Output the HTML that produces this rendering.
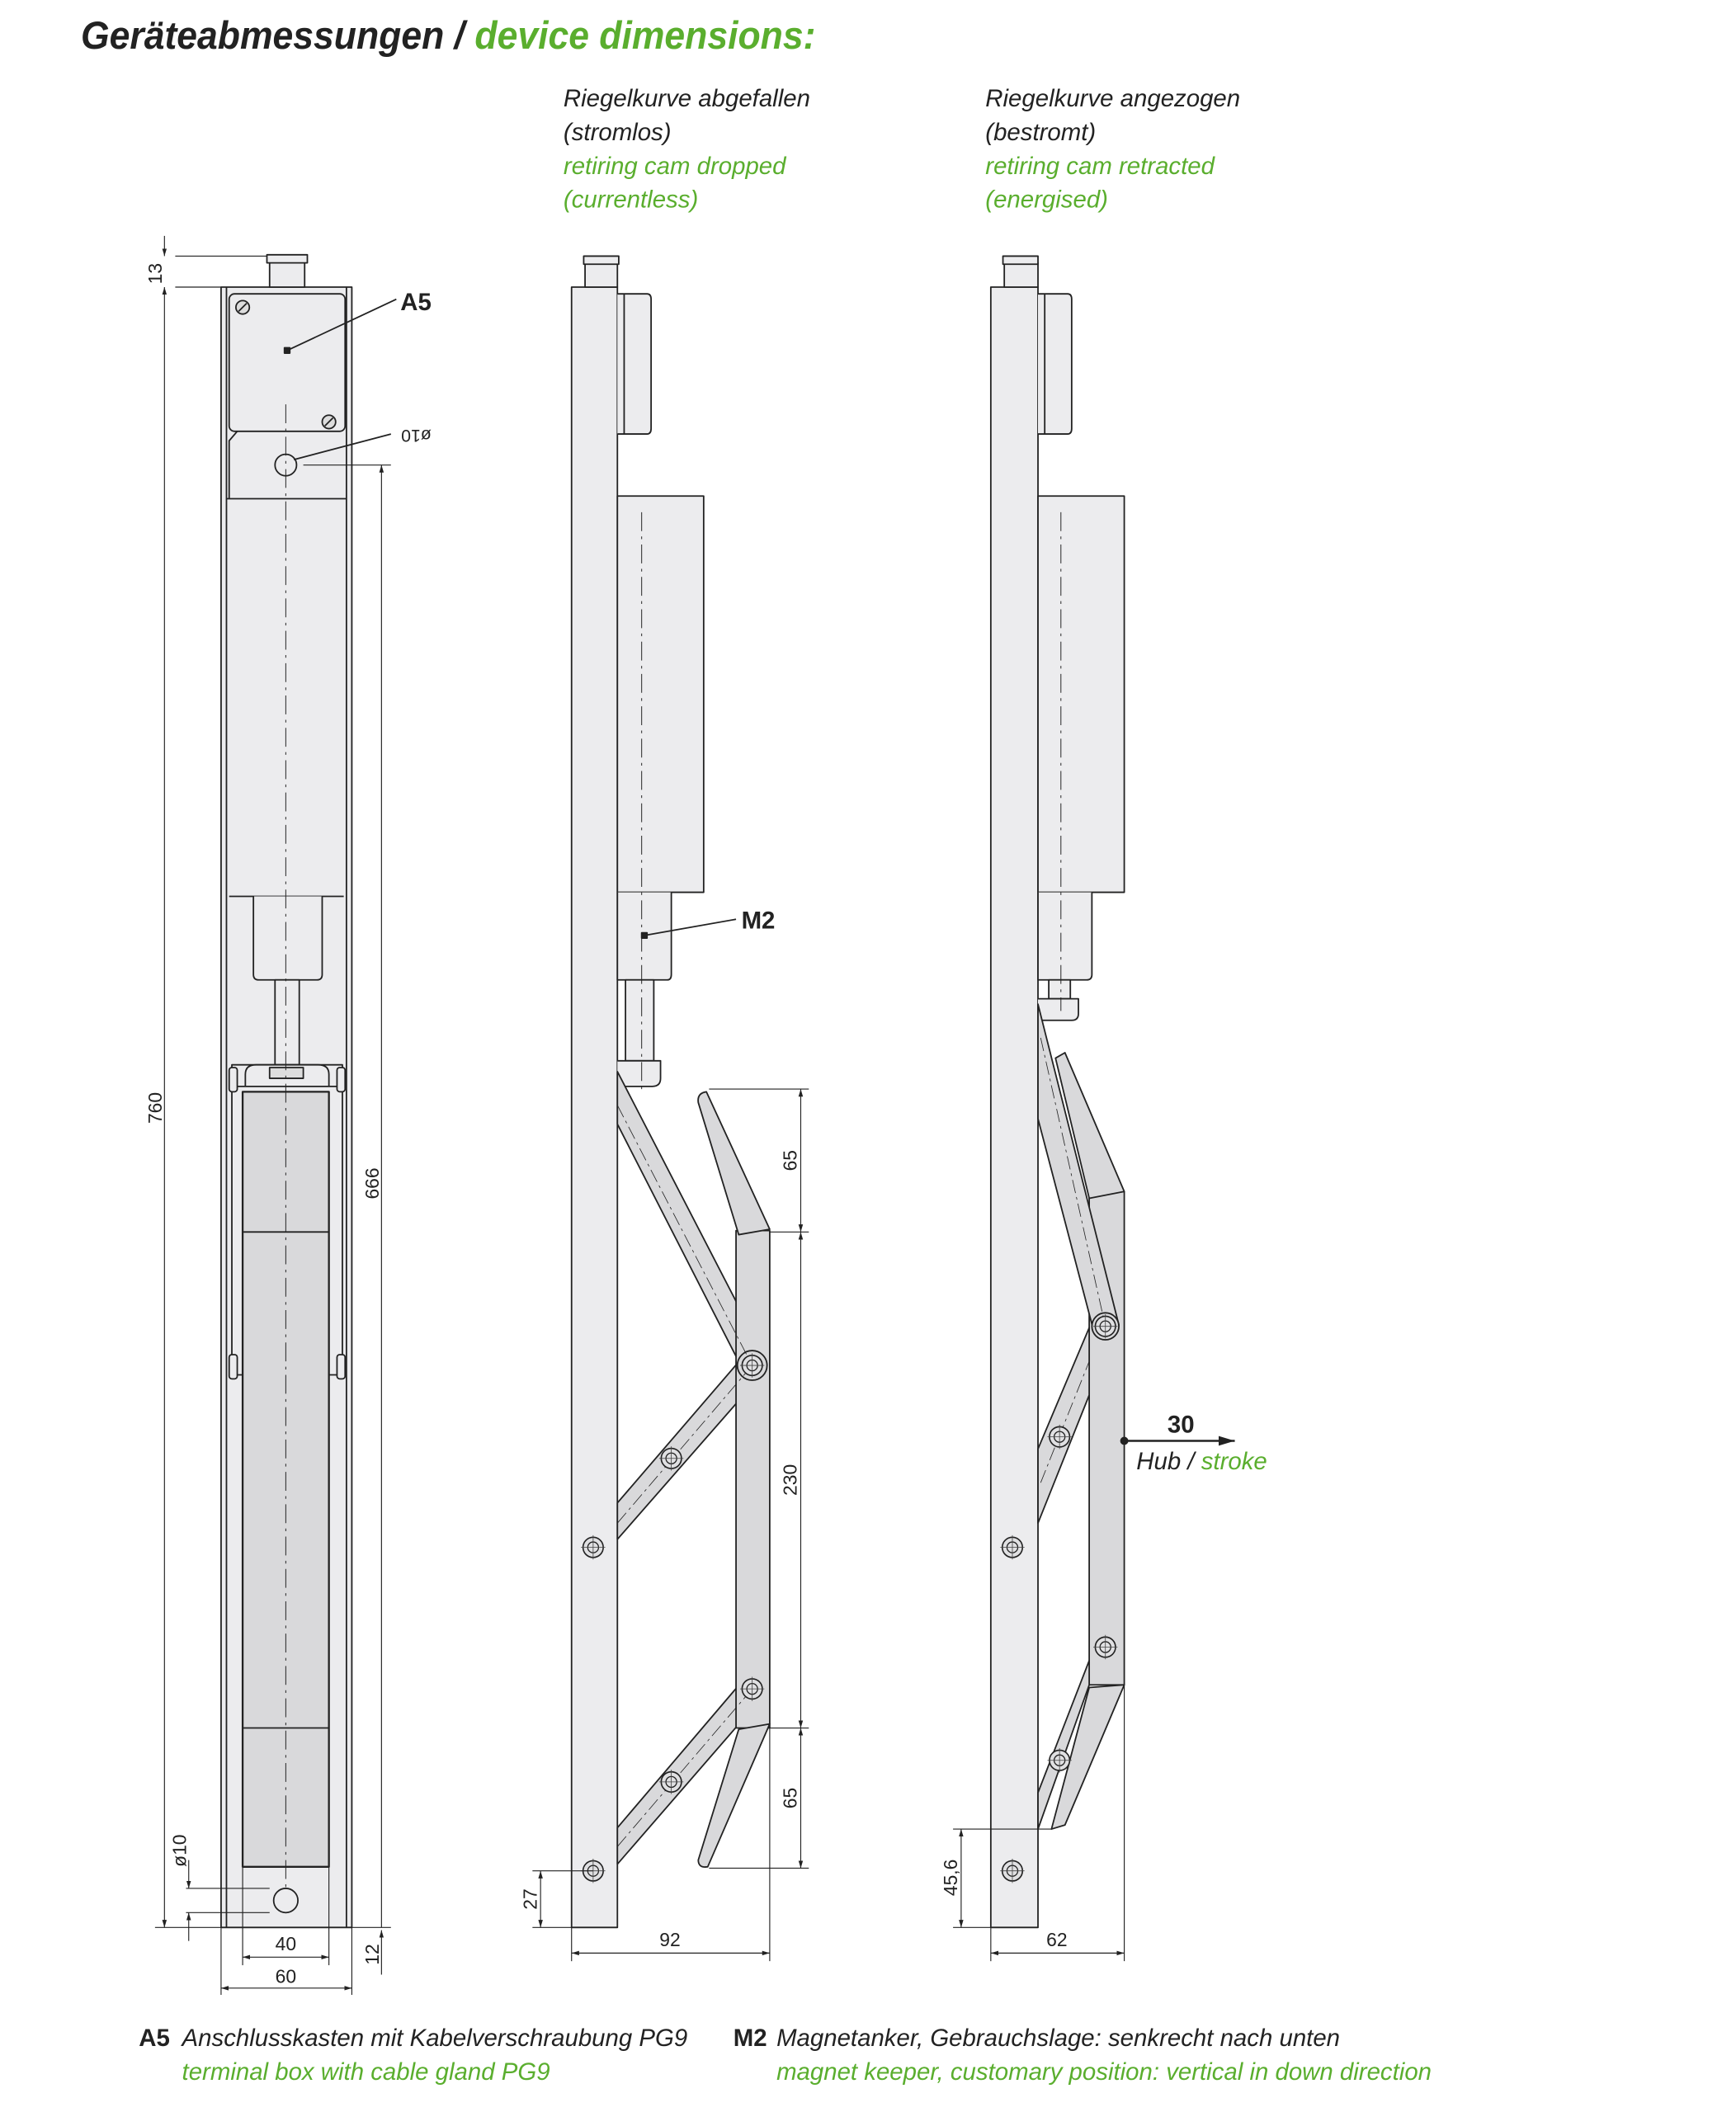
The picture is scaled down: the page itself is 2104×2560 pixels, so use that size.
<!DOCTYPE html>
<html><head><meta charset="utf-8"><style>
html,body{margin:0;padding:0;background:#fff}
svg{display:block}
text{font-family:"Liberation Sans",sans-serif}
.it{font-style:italic}
.g{fill:#5aae2e}
.k{fill:#222}
</style></head><body>
<svg width="2104" height="2560" viewBox="0 0 1287.8 1566.9" xmlns="http://www.w3.org/2000/svg">
<defs>
<marker id="ar" viewBox="0 0 10 10" refX="10" refY="5" markerWidth="8" markerHeight="8" orient="auto-start-reverse"><path d="M0,2 L10,5 L0,8z" fill="#222"/></marker>
<g id="pv"><circle r="7.5" fill="#e0e0e2" stroke="#222" stroke-width="1"/><circle r="4" fill="none" stroke="#222" stroke-width="0.8"/><path d="M-9,0H9M0,-9V9" stroke="#444" stroke-width="0.5"/></g>
</defs>
<g stroke="#222" stroke-width="1.1" stroke-linejoin="round">
<text x="60" y="36" font-size="29" font-style="italic" font-weight="bold" stroke="none" class="k" textLength="545" lengthAdjust="spacingAndGlyphs">Geräteabmessungen / <tspan class="g">device dimensions:</tspan></text>
<g stroke="none" font-size="18" font-style="italic">
<text x="418" y="79" class="k">Riegelkurve abgefallen</text>
<text x="418" y="104" class="k">(stromlos)</text>
<text x="418" y="129" class="g">retiring cam dropped</text>
<text x="418" y="154" class="g">(currentless)</text>
<text x="731" y="79" class="k">Riegelkurve angezogen</text>
<text x="731" y="104" class="k">(bestromt)</text>
<text x="731" y="129" class="g">retiring cam retracted</text>
<text x="731" y="154" class="g">(energised)</text>
</g>

<!-- LEFT VIEW -->
<rect x="164" y="213" width="97" height="1217" fill="#ececee"/>
<line x1="168" y1="213" x2="168" y2="1430"/><line x1="257" y1="213" x2="257" y2="1430"/>
<rect x="200" y="193" width="26" height="20" fill="#ececee"/>
<rect x="198" y="189" width="30" height="6" fill="#ececee"/>
<rect x="170" y="218" width="86" height="102" rx="4" fill="#ececee"/>
<circle cx="180" cy="228" r="5" fill="#ddd"/><line x1="177" y1="231" x2="183" y2="225"/>
<circle cx="244" cy="313" r="5" fill="#ddd"/><line x1="241" y1="316" x2="247" y2="310"/>
<rect x="211" y="258" width="4" height="4" fill="#222"/><line x1="213" y1="260" x2="294" y2="222"/>
<text x="297" y="230" font-size="18" font-weight="bold" stroke="none" class="k">A5</text>
<path d="M176,320 L170,327 L170,370" fill="none"/>
<line x1="168" y1="370" x2="257" y2="370"/>
<circle cx="212" cy="345" r="8" fill="#ececee"/>
<line x1="218" y1="341" x2="290" y2="322"/>
<text x="294" y="329" font-size="13" stroke="none" class="k" transform="rotate(180 307 324)">ø10</text>
<line x1="170" y1="665" x2="255" y2="665"/>
<path d="M188,665 V723 Q188,727 192,727 H235 Q239,727 239,723 V665" fill="#ececee"/>
<rect x="204" y="727" width="18" height="63" fill="#ececee"/>
<rect x="172" y="790" width="82" height="230" fill="none"/>
<path d="M182,806 V797 Q182,790 190,790 H236 Q244,790 244,797 V806" fill="#ececee"/>
<rect x="200" y="792" width="25" height="8" fill="#ddd"/>
<rect x="170" y="792" width="6" height="18" rx="2" fill="#ececee"/><rect x="250" y="792" width="6" height="18" rx="2" fill="#ececee"/>
<rect x="170" y="1005" width="6" height="18" rx="2" fill="#ececee"/><rect x="250" y="1005" width="6" height="18" rx="2" fill="#ececee"/>
<line x1="176" y1="806" x2="250" y2="806"/>
<rect x="180" y="810" width="64" height="575" fill="#d9d9db" stroke-width="1.4"/>
<line x1="180" y1="914" x2="244" y2="914"/><line x1="180" y1="1282" x2="244" y2="1282"/>
<line x1="212" y1="300" x2="212" y2="1400" stroke-dasharray="14,4,2,4" stroke-width="0.6"/>
<circle cx="212" cy="1410" r="9" fill="#ececee"/>
<g stroke-width="0.7" fill="none">
<line x1="130" y1="190" x2="198" y2="190"/><line x1="130" y1="213" x2="164" y2="213"/>
<line x1="122" y1="175" x2="122" y2="190" marker-end="url(#ar)"/>
<line x1="122" y1="213" x2="122" y2="1430" marker-start="url(#ar)" marker-end="url(#ar)"/>
<line x1="115" y1="1430" x2="164" y2="1430"/>
<line x1="225" y1="345" x2="290" y2="345"/>
<line x1="283" y1="345" x2="283" y2="1430" marker-start="url(#ar)"/>
<line x1="261" y1="1430" x2="290" y2="1430"/>
<line x1="283" y1="1465" x2="283" y2="1432" marker-end="url(#ar)"/>
<line x1="138" y1="1401" x2="200" y2="1401"/><line x1="138" y1="1419" x2="200" y2="1419"/>
<line x1="140" y1="1380" x2="140" y2="1401" marker-end="url(#ar)"/>
<line x1="140" y1="1440" x2="140" y2="1419" marker-end="url(#ar)"/>
<line x1="180" y1="1385" x2="180" y2="1458"/><line x1="244" y1="1385" x2="244" y2="1458"/>
<line x1="180" y1="1452" x2="244" y2="1452" marker-start="url(#ar)" marker-end="url(#ar)"/>
<line x1="164" y1="1430" x2="164" y2="1480"/><line x1="261" y1="1430" x2="261" y2="1480"/>
<line x1="164" y1="1475" x2="261" y2="1475" marker-start="url(#ar)" marker-end="url(#ar)"/>
</g>
<g stroke="none" font-size="14" class="k">
<text transform="translate(120,203) rotate(-90)" text-anchor="middle">13</text>
<text transform="translate(120,822) rotate(-90)" text-anchor="middle">760</text>
<text transform="translate(281,878) rotate(-90)" text-anchor="middle">666</text>
<text transform="translate(281,1450) rotate(-90)" text-anchor="middle">12</text>
<text transform="translate(138,1373) rotate(-90)" text-anchor="middle">ø10</text>
<text x="212" y="1447" text-anchor="middle">40</text>
<text x="212" y="1471" text-anchor="middle">60</text>
</g>

<!-- MIDDLE VIEW -->
<rect x="424" y="213" width="34" height="1217" fill="#ececee"/>
<rect x="434" y="195" width="24" height="18" fill="#ececee"/><rect x="433" y="190" width="26" height="6" fill="#ececee"/>
<path d="M458,218 H480 Q483,218 483,222 V318 Q483,322 480,322 H458" fill="#ececee"/>
<line x1="463" y1="218" x2="463" y2="322"/>
<rect x="458" y="368" width="64" height="294" fill="#ececee"/>
<path d="M458,662 V727 H495 Q498,727 498,723 V662" fill="#ececee"/>
<rect x="464" y="727" width="21" height="60" fill="#ececee"/>
<path d="M458,787 H490 V800 Q490,806 484,806 H458" fill="#ececee"/>
<line x1="476" y1="380" x2="476" y2="810" stroke-dasharray="14,4,2,4" stroke-width="0.6"/>
<line x1="478" y1="694" x2="546" y2="682"/><rect x="476" y="692" width="4" height="4" fill="#222"/>
<text x="550" y="689" font-size="18" font-weight="bold" stroke="none" class="k">M2</text>
<path d="M458,795 L568,1008 L552,1018 L458,834 Z" fill="#d9d9db"/>
<path d="M458,1115 L550,1008 L556,1030 L458,1142 Z" fill="#d9d9db"/>
<path d="M458,1356 L550,1248 L556,1270 L458,1383 Z" fill="#d9d9db"/>
<rect x="546" y="913" width="25" height="369" fill="#d9d9db"/>
<path d="M518,818 Q517,811 524,810 L571,912 L548,916 Z" fill="#d9d9db"/>
<path d="M548,1283 L571,1279 L525,1385 Q518,1386 518,1380 Z" fill="#d9d9db"/>
<circle cx="558" cy="1013" r="11" fill="#d9d9db"/>
<g stroke-width="0.5" stroke-dasharray="10,3,2,3"><line x1="458" y1="820" x2="558" y2="1013"/><line x1="458" y1="1130" x2="558" y2="1013"/><line x1="458" y1="1370" x2="558" y2="1253"/></g>
<use href="#pv" x="558" y="1013"/><use href="#pv" x="498" y="1082"/><use href="#pv" x="440" y="1148"/>
<use href="#pv" x="558" y="1253"/><use href="#pv" x="498" y="1322"/><use href="#pv" x="440" y="1388"/>
<g stroke-width="0.7" fill="none">
<line x1="526" y1="808" x2="600" y2="808"/><line x1="571" y1="914" x2="600" y2="914"/>
<line x1="571" y1="1282" x2="600" y2="1282"/><line x1="526" y1="1386" x2="600" y2="1386"/>
<line x1="594" y1="808" x2="594" y2="914" marker-start="url(#ar)" marker-end="url(#ar)"/>
<line x1="594" y1="914" x2="594" y2="1282" marker-start="url(#ar)" marker-end="url(#ar)"/>
<line x1="594" y1="1282" x2="594" y2="1386" marker-start="url(#ar)" marker-end="url(#ar)"/>
<line x1="395" y1="1388" x2="440" y2="1388"/><line x1="395" y1="1430" x2="424" y2="1430"/>
<line x1="401" y1="1388" x2="401" y2="1430" marker-start="url(#ar)" marker-end="url(#ar)"/>
<line x1="424" y1="1430" x2="424" y2="1455"/><line x1="571" y1="1282" x2="571" y2="1455"/>
<line x1="424" y1="1449" x2="571" y2="1449" marker-start="url(#ar)" marker-end="url(#ar)"/>
</g>
<g stroke="none" font-size="14" class="k">
<text transform="translate(591,861) rotate(-90)" text-anchor="middle">65</text>
<text transform="translate(591,1098) rotate(-90)" text-anchor="middle">230</text>
<text transform="translate(591,1334) rotate(-90)" text-anchor="middle">65</text>
<text transform="translate(398,1409) rotate(-90)" text-anchor="middle">27</text>
<text x="497" y="1444" text-anchor="middle">92</text>
</g>

<!-- RIGHT VIEW -->
<rect x="735" y="213" width="35" height="1217" fill="#ececee"/>
<rect x="745" y="195" width="25" height="18" fill="#ececee"/><rect x="744" y="190" width="26" height="6" fill="#ececee"/>
<path d="M770,218 H792 Q795,218 795,222 V318 Q795,322 792,322 H770" fill="#ececee"/>
<line x1="775" y1="218" x2="775" y2="322"/>
<rect x="770" y="368" width="64" height="294" fill="#ececee"/>
<path d="M770,662 V727 H806 Q810,727 810,723 V662" fill="#ececee"/>
<rect x="778" y="727" width="16" height="14" fill="#ececee"/>
<path d="M770,741 H800 V752 Q800,757 795,757 H770" fill="#ececee"/>
<line x1="787" y1="380" x2="787" y2="750" stroke-dasharray="14,4,2,4" stroke-width="0.6"/>
<path d="M808,887 L834,884 L834,1250 L808,1250 Z" fill="#d9d9db"/>
<path d="M783,785 L790,781 L834,884 L808,889 Z" fill="#d9d9db"/>
<path d="M808,1252 L834,1250 L790,1354 L780,1357 Z" fill="#d9d9db"/>
<path d="M770,745 L830,983 L812,990 L770,830 Z" fill="#d9d9db"/>
<path d="M770,1075 L808,985 L808,1035 L770,1130 Z" fill="#d9d9db"/>
<path d="M770,1330 L808,1232 L808,1250 L770,1357 Z" fill="#d9d9db"/>
<circle cx="820" cy="984" r="10" fill="#d9d9db"/>
<g stroke-width="0.5" stroke-dasharray="10,3,2,3"><line x1="772" y1="770" x2="820" y2="984"/><line x1="772" y1="1100" x2="808" y2="1010"/></g>
<use href="#pv" x="820" y="984"/><use href="#pv" x="786" y="1066"/><use href="#pv" x="751" y="1148"/>
<use href="#pv" x="820" y="1222"/><use href="#pv" x="786" y="1306"/><use href="#pv" x="751" y="1388"/>
<line x1="834" y1="1069" x2="916" y2="1069" stroke-width="1.5" marker-end="url(#ar)"/>
<circle cx="834" cy="1069" r="2.5" fill="#222"/>
<text x="876" y="1063" font-size="18" font-weight="bold" stroke="none" class="k" text-anchor="middle">30</text>
<text x="843" y="1090" font-size="18" font-style="italic" stroke="none" class="k">Hub / <tspan class="g">stroke</tspan></text>
<g stroke-width="0.7" fill="none">
<line x1="707" y1="1357" x2="780" y2="1357"/><line x1="707" y1="1430" x2="735" y2="1430"/>
<line x1="713" y1="1357" x2="713" y2="1430" marker-start="url(#ar)" marker-end="url(#ar)"/>
<line x1="735" y1="1430" x2="735" y2="1455"/><line x1="834" y1="1250" x2="834" y2="1455"/>
<line x1="735" y1="1449" x2="834" y2="1449" marker-start="url(#ar)" marker-end="url(#ar)"/>
</g>
<g stroke="none" font-size="14" class="k">
<text transform="translate(710,1393) rotate(-90)" text-anchor="middle">45,6</text>
<text x="784" y="1444" text-anchor="middle">62</text>
</g>

<g stroke="none" font-size="18">
<text x="103" y="1518" font-weight="bold" class="k">A5</text>
<text x="135" y="1518" class="k it">Anschlusskasten mit Kabelverschraubung PG9</text>
<text x="135" y="1543" class="g it">terminal box with cable gland PG9</text>
<text x="544" y="1518" font-weight="bold" class="k">M2</text>
<text x="576" y="1518" class="k it">Magnetanker, Gebrauchslage: senkrecht nach unten</text>
<text x="576" y="1543" class="g it">magnet keeper, customary position: vertical in down direction</text>
</g>
</g>
</svg>
</body></html>
